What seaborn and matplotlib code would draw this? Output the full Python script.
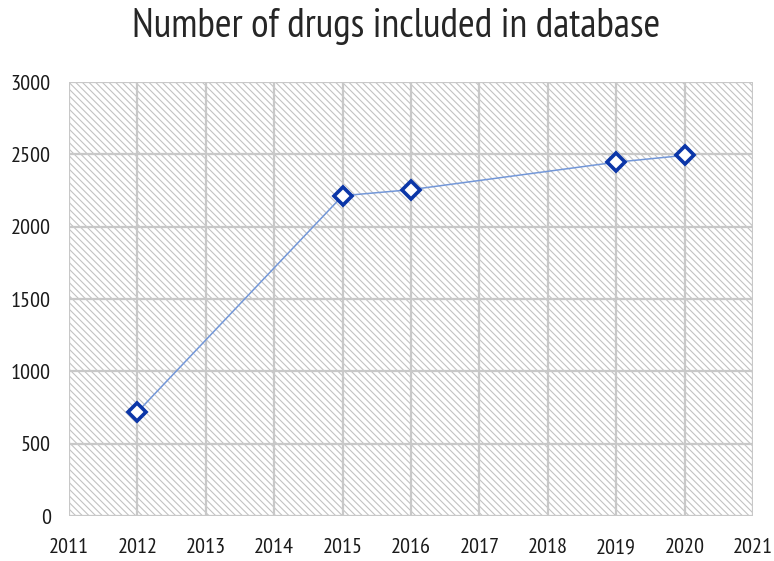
import pandas as pd
import numpy as np
import seaborn as sns
import matplotlib.pyplot as plt
from matplotlib.patches import Rectangle

# dati
anni = [2012, 2015, 2016, 2019, 2020]
farmaci = [718, 2214, 2256, 2446, 2493]
x_ticks = list(range(2011, 2022))
y_ticks = [0, 500, 1000, 1500, 2000, 2500, 3000]

df = pd.DataFrame({'anno': anni, 'farmaci': farmaci})

sns.set_style("white")
plt.rcParams['font.family'] = ['PT Sans Narrow', 'DejaVu Sans']
plt.rcParams['hatch.linewidth'] = 0.8

fig = plt.figure(figsize=(7.74, 5.61), dpi=100)
ax = fig.add_axes([0.0891, 0.0802, 0.8838, 0.7736])

# sfondo tratteggiato
ax.add_patch(Rectangle((0, 0), 1, 1, transform=ax.transAxes, facecolor='white',
                       edgecolor='#c2c2c2', linewidth=0, hatch='\\' * 5, zorder=0))

sns.lineplot(data=df, x='anno', y='farmaci', ax=ax, color='#7397d8', linewidth=1.1,
             marker='D', markersize=9, markerfacecolor='white',
             markeredgecolor='#0b36a8', markeredgewidth=2.6, zorder=3)

ax.set_xlim(2011, 2021)
ax.set_ylim(0, 3000)
ax.set_xticks(x_ticks)
ax.set_yticks(y_ticks)
ax.grid(True, color='#c8c8c8', linewidth=1.6, zorder=1)
ax.set_axisbelow(True)
for s in ax.spines.values():
    s.set_visible(False)
ax.tick_params(axis='x', length=0, pad=16, labelsize=16, labelcolor='#1a1a1a')
ax.tick_params(axis='y', length=0, pad=13, labelsize=16, labelcolor='#1a1a1a')
ax.set_xlabel('')
ax.set_ylabel('')

fig.text(0.512, 0.953, 'Number of drugs included in database', ha='center', va='center',
         fontsize=29, color='#262626')

plt.savefig('out.png', dpi=100)
